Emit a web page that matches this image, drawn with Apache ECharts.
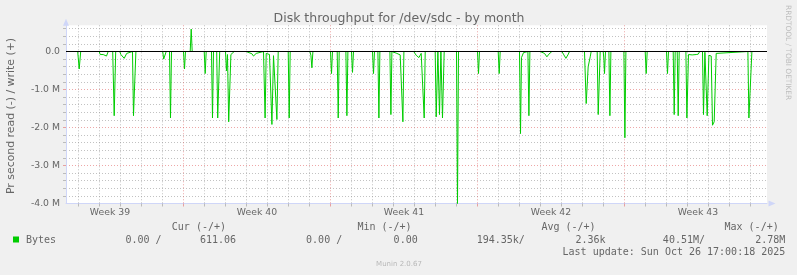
<!DOCTYPE html>
<html><head><meta charset="utf-8">
<script src="https://cdn.jsdelivr.net/npm/echarts@6/dist/echarts.min.js"></script>
<style>html,body{margin:0;padding:0;background:#f0f0f0}#c{width:797px;height:275px}</style>
</head><body><div id="c"></div>
<script>
// x unit: days since Monday 22 Sep 2025 00:00 (start of ISO week 39)
const xMin = 1.4048, xMax = 34.786;
const weekStarts = [7, 14, 21, 28];
const weekCenters = [3.5, 10.5, 17.5, 24.5, 31.5];
const weekLabels = ['Week 39', 'Week 40', 'Week 41', 'Week 42', 'Week 43'];
const yMin = -4, yMax = 0.69;
const yLabelValues = [-4, -3, -2, -1, 0];

// Bytes per second in millions; reads drawn negative
const readTimes = [1.4048,
 1.962, 2.033, 2.105,
 2.986, 3.033, 3.176, 3.333, 3.414,
 3.629, 3.700, 3.771,
 3.962, 4.019, 4.176, 4.295, 4.367,
 4.571, 4.619, 4.686, 4.733,
 6.010, 6.057, 6.129, 6.176,
 6.333, 6.381, 6.429,
 7.000, 7.048, 7.095,
 7.986, 8.033, 8.081,
 8.333, 8.381, 8.429,
 8.581, 8.629, 8.676, 8.724,
 9.000, 9.048, 9.095, 9.152, 9.210, 9.257, 9.319, 9.414,
 9.986, 10.048, 10.257, 10.333, 10.462, 10.524,
 10.810, 10.886, 10.938, 11.095, 11.210, 11.286, 11.333, 11.448, 11.510,
 11.986, 12.033, 12.081,
 13.019, 13.067, 13.114, 13.162,
 14.000, 14.048, 14.095,
 14.319, 14.367, 14.414,
 14.733, 14.781, 14.829,
 15.000, 15.048, 15.095,
 16.000, 16.048, 16.095,
 16.257, 16.305, 16.352,
 16.829, 16.876, 16.924, 17.000, 17.162, 17.319, 17.400, 17.448, 17.495,
 17.962, 18.081, 18.210, 18.319, 18.400, 18.462, 18.510,
 18.986, 19.033, 19.114, 19.190, 19.257, 19.333, 19.367, 19.414,
 20.000, 20.048, 20.095,
 21.000, 21.048, 21.095,
 21.986, 22.033, 22.081,
 23.000, 23.048, 23.095, 23.162, 23.190, 23.238,
 23.400, 23.448, 23.495,
 23.986, 24.081, 24.190, 24.305, 24.400, 24.495, 24.543,
 25.019, 25.114, 25.210, 25.305, 25.381,
 26.095, 26.176, 26.224, 26.271, 26.333, 26.367, 26.414,
 26.700, 26.748, 26.810, 26.843,
 26.986, 27.019, 27.048, 27.095,
 27.257, 27.305, 27.352,
 27.971, 28.019, 28.067,
 28.986, 29.033, 29.081,
 30.000, 30.048, 30.095,
 30.319, 30.367, 30.414,
 30.510, 30.557, 30.605,
 30.924, 30.971, 31.048, 31.224, 31.319, 31.414, 31.510, 31.543, 31.581,
 31.714, 31.762, 31.829, 31.876, 31.938, 32.019, 32.129, 32.190, 32.271, 32.319, 32.367, 32.414,
 33.876, 33.924, 33.971, 34.067,
 34.786];
const readValues = [0,
 0, -0.46, 0,
 0, -0.08, -0.08, -0.12, 0,
 0, -1.69, 0,
 0, -0.08, -0.18, -0.05, 0,
 0, -1.69, -1.69, 0,
 0, -0.20, -0.21, 0,
 0, -1.75, 0,
 0, -0.46, 0,
 0, -0.58, 0,
 0, -1.75, 0,
 0, -1.75, -1.75, 0,
 0, -0.51, -0.08, -1.85, -1.85, -0.08, -0.03, 0,
 0, -0.05, -0.06, -0.12, -0.05, 0,
 0, -1.75, -0.05, -0.08, -1.92, -0.11, -0.09, -1.79, 0,
 0, -1.75, 0,
 0, -0.10, -0.43, 0,
 0, -0.58, 0,
 0, -1.75, 0,
 0, -1.69, 0,
 0, -0.55, 0,
 0, -0.58, 0,
 0, -1.75, 0,
 0, -1.66, 0, -0.03, -0.05, -0.09, -0.10, -1.85, 0,
 0, -0.10, -0.16, -0.05, 0, -1.75, 0,
 0, -1.72, 0, -1.66, 0, -1.75, -1.75, 0,
 0, -4.00, 0,
 0, -0.58, 0,
 0, -0.58, 0,
 0, -2.16, -0.16, -0.14, -0.03, 0,
 0, -1.69, 0,
 0, -0.05, -0.05, -0.14, -0.07, -0.03, 0,
 0, -0.09, -0.18, -0.09, 0,
 0, -1.37, -1.37, -0.40, -0.40, -0.14, 0,
 0, -1.66, -1.66, 0,
 0, -0.20, -0.58, 0,
 0, -1.69, 0,
 0, -2.27, 0,
 0, -0.58, 0,
 0, -0.58, 0,
 0, -1.66, 0,
 0, -1.69, 0,
 0, -1.75, -0.08, -0.09, -0.12, -0.08, -0.07, -0.02, 0,
 0, -1.66, -0.02, -0.05, -1.69, -0.10, -0.12, -1.94, -1.85, -1.81, -0.05, 0,
 0, -1.75, -1.75, 0,
 0];
const writeTimes = [1.4048, 7.319, 7.367, 7.414, 8.590, 8.650, 8.700, 23.950, 23.986, 24.030, 25.829, 25.876, 25.924, 34.786];
const writeValues = [0, 0, 0.59, 0, 0, 0.03, 0, 0, 0.03, 0, 0, 0.03, 0, 0];

const legendHeaders = ['Cur (-/+)', 'Min (-/+)', 'Avg (-/+)', 'Max (-/+)'];
const legendValues = ['0.00 /', '611.06', '0.00 /', '0.00', '194.35k/', '2.36k', '40.51M/', '2.78M'];
const lastUpdate = 'Last update: Sun Oct 26 17:00:18 2025';

const zip = (a, b) => a.map((t, i) => [t, b[i]]);

const dayTicks = [];
for (let d = 2; d <= 34; d++) if (weekStarts.indexOf(d) < 0) dayTicks.push(d);
const minorY = [];
for (let k = -19; k <= 3; k++) { if (k % 5 !== 0) minorY.push(+(k * 0.2).toFixed(1)); }

const GREEN = '#00cc00';
const FONT = 'DejaVu Sans';
const MONO = 'DejaVu Sans Mono';
const TXT = '#666666';
const AXIS = '#cfd6f8';
const GRID = 'rgba(143,143,143,0.55)';
const MGRID = 'rgba(222,79,79,0.5)';

const chart = echarts.init(document.getElementById('c'), null, {renderer: 'canvas'});
const headerRight = [226, 411.6, 595.6, 778.7];
const valueRight = [161.5, 236, 342.2, 417.7, 524.8, 605.5, 705, 785.3];
const graphics = [
  {type: 'text', x: 399, y: 19, style: {text: 'Disk throughput for /dev/sdc - by month', font: '12.5px ' + FONT, fill: TXT, align: 'center', verticalAlign: 'middle'}},
  {type: 'text', x: 11, y: 116, rotation: Math.PI / 2, style: {text: 'Pr second read (-) / write (+)', font: '10.9px ' + FONT, fill: TXT, align: 'center', verticalAlign: 'middle'}},
  {type: 'text', x: 788, y: 5, rotation: -Math.PI / 2, style: {text: 'RRDTOOL / TOBI OETIKER', font: '7.4px ' + FONT, fill: '#bdbdbd', align: 'left', verticalAlign: 'middle'}},
  {type: 'rect', shape: {x: 13, y: 236.5, width: 6, height: 6}, style: {fill: GREEN}},
  {type: 'text', x: 26, y: 240, style: {text: 'Bytes', font: '10px ' + MONO, fill: TXT, align: 'left', verticalAlign: 'middle'}},
  {type: 'text', x: 785.3, y: 252, style: {text: lastUpdate, font: '10px ' + MONO, fill: TXT, align: 'right', verticalAlign: 'middle'}},
  {type: 'text', x: 399, y: 264, style: {text: 'Munin 2.0.67', font: '7px ' + FONT, fill: '#b8b8b8', align: 'center', verticalAlign: 'middle'}}
];
legendHeaders.forEach((t, i) => graphics.push({type: 'text', x: headerRight[i], y: 227, style: {text: t, font: '10px ' + MONO, fill: TXT, align: 'right', verticalAlign: 'middle'}}));
legendValues.forEach((t, i) => graphics.push({type: 'text', x: valueRight[i], y: 240, style: {text: t, font: '10px ' + MONO, fill: TXT, align: 'right', verticalAlign: 'middle'}}));

chart.setOption({
  animation: false,
  backgroundColor: '#f0f0f0',
  grid: {left: 66, top: 25.28, width: 701, height: 178.22, show: true, backgroundColor: '#ffffff', borderWidth: 0, containLabel: false},
  xAxis: [
    {type: 'value', min: xMin, max: xMax, position: 'bottom',
     axisLine: {show: true, onZero: false, lineStyle: {color: AXIS, width: 1}, symbol: ['none', 'triangle'], symbolSize: [6, 7], symbolOffset: [0, 5]},
     axisTick: {show: true, customValues: dayTicks, length: 3, lineStyle: {color: GRID}},
     axisLabel: {show: false},
     splitLine: {show: true, lineStyle: {color: GRID, type: [1, 2], width: 1}}},
    {type: 'value', min: xMin, max: xMax, position: 'bottom',
     axisLine: {show: false, onZero: false},
     axisTick: {show: true, customValues: weekStarts, length: 3, lineStyle: {color: MGRID}},
     axisLabel: {show: true, customValues: weekCenters, margin: 5, fontFamily: FONT, fontSize: 9.3, color: TXT,
       formatter: v => weekLabels[weekCenters.indexOf(v)]},
     splitLine: {show: true, lineStyle: {color: MGRID, type: [1, 2], width: 1}}}
  ],
  yAxis: [
    {type: 'value', min: yMin, max: yMax, position: 'left',
     axisLine: {show: true, onZero: false, lineStyle: {color: AXIS, width: 1}, symbol: ['none', 'triangle'], symbolSize: [6, 7], symbolOffset: [0, 3]},
     axisTick: {show: true, customValues: minorY, length: 3, lineStyle: {color: GRID}},
     axisLabel: {show: true, customValues: yLabelValues, margin: 6, fontFamily: FONT, fontSize: 9.3, color: TXT,
       formatter: v => v === 0 ? '0.0' : v.toFixed(1) + ' M'},
     splitLine: {show: true, lineStyle: {color: GRID, type: [1, 2], width: 1}}},
    {type: 'value', min: yMin, max: yMax, position: 'left',
     axisLine: {show: false, onZero: false},
     axisTick: {show: true, customValues: [-3, -2, -1], length: 3, lineStyle: {color: MGRID}},
     axisLabel: {show: false},
     splitLine: {show: true, lineStyle: {color: MGRID, type: [1, 2], width: 1}}}
  ],
  series: [
    {name: 'read', type: 'line', xAxisIndex: 0, yAxisIndex: 0, data: zip(readTimes, readValues),
     showSymbol: false, symbol: 'none', lineStyle: {color: GREEN, width: 1}, clip: true, z: 3},
    {name: 'write', type: 'line', xAxisIndex: 0, yAxisIndex: 0, data: zip(writeTimes, writeValues),
     showSymbol: false, symbol: 'none', lineStyle: {color: GREEN, width: 1}, clip: true, z: 3,
     markLine: {silent: true, symbol: 'none', label: {show: false}, lineStyle: {color: '#000000', type: 'solid', width: 1}, data: [{yAxis: 0}], z: 5}}
  ],
  graphic: graphics
});
</script></body></html>
